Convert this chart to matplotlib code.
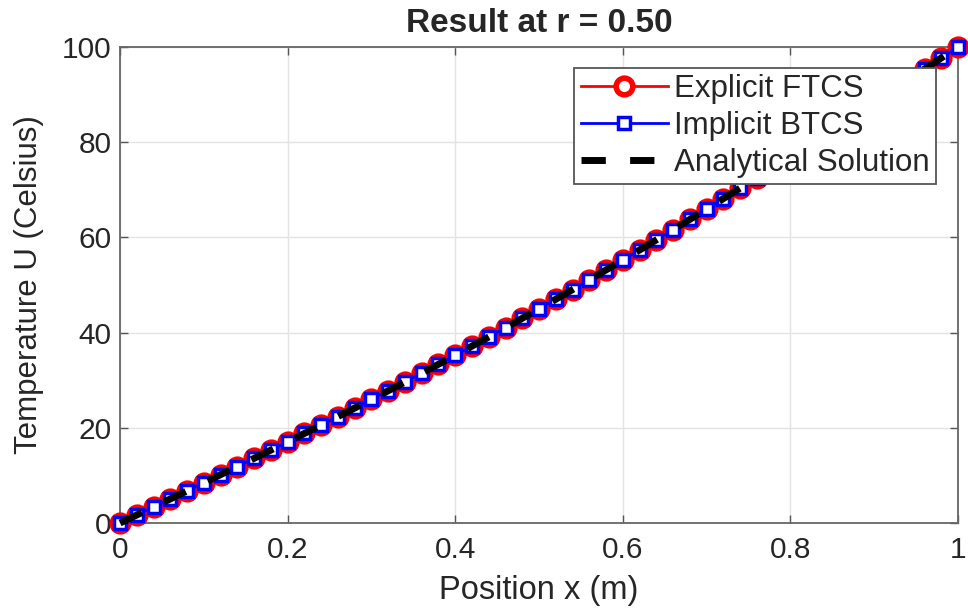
import matplotlib
matplotlib.use("Agg")
import matplotlib.pyplot as plt

plt.rcParams['font.family'] = ['Liberation Sans', 'DejaVu Sans']

x = [i / 50 for i in range(51)]
u_ftcs = [0.00, 1.69, 3.37, 5.06, 6.76, 8.45, 10.16, 11.87, 13.59, 15.32,
          17.06, 18.81, 20.58, 22.36, 24.15, 25.95, 27.78, 29.62, 31.48, 33.35,
          35.24, 37.16, 39.09, 41.04, 43.01, 45.00, 47.01, 49.04, 51.09, 53.16,
          55.24, 57.35, 59.48, 61.62, 63.78, 65.95, 68.15, 70.36, 72.58, 74.81,
          77.06, 79.32, 81.59, 83.87, 86.16, 88.45, 90.76, 93.06, 95.37, 97.69, 100.00]
u_btcs = [0.00, 1.69, 3.37, 5.06, 6.76, 8.45, 10.16, 11.87, 13.59, 15.32,
          17.06, 18.81, 20.58, 22.36, 24.15, 25.95, 27.78, 29.62, 31.48, 33.35,
          35.24, 37.16, 39.09, 41.04, 43.01, 45.00, 47.01, 49.04, 51.09, 53.16,
          55.24, 57.35, 59.48, 61.62, 63.78, 65.95, 68.15, 70.36, 72.58, 74.81,
          77.06, 79.32, 81.59, 83.87, 86.16, 88.45, 90.76, 93.06, 95.37, 97.69, 100.00]
u_exact = [0.00, 1.69, 3.37, 5.06, 6.76, 8.45, 10.16, 11.87, 13.59, 15.32,
           17.06, 18.81, 20.58, 22.36, 24.15, 25.95, 27.78, 29.62, 31.48, 33.35,
           35.24, 37.16, 39.09, 41.04, 43.01, 45.00, 47.01, 49.04, 51.09, 53.16,
           55.24, 57.35, 59.48, 61.62, 63.78, 65.95, 68.15, 70.36, 72.58, 74.81,
           77.06, 79.32, 81.59, 83.87, 86.16, 88.45, 90.76, 93.06, 95.37, 97.69, 100.00]
xticks = [0, 0.2, 0.4, 0.6, 0.8, 1]
xticklabels = ['0', '0.2', '0.4', '0.6', '0.8', '1']
yticks = [0, 20, 40, 60, 80, 100]

TXT = '#262626'
fig = plt.figure(figsize=(9.68, 6.10), dpi=100)
ax = fig.add_axes([0.124, 0.1426, 0.8657, 0.7804])

ax.plot(x, u_ftcs, color='red', lw=2, marker='o', ms=12, mew=4,
        mfc='white', mec='red', label='Explicit FTCS', clip_on=False, zorder=3)
ax.plot(x, u_btcs, color='blue', lw=2, marker='s', ms=8, mew=2.5,
        mfc='white', mec='blue', label='Implicit BTCS', clip_on=False, zorder=4)
ax.plot(x, u_exact, color='black', lw=5, ls=(0, (3.5, 3.5)),
        label='Analytical Solution', clip_on=False, zorder=5)

ax.set_xlim(0, 1)
ax.set_ylim(0, 100)
ax.set_xticks(xticks)
ax.set_xticklabels(xticklabels)
ax.set_yticks(yticks)
ax.grid(True, color='#e3e3e3', lw=1)
ax.set_axisbelow(True)
for s in ax.spines.values():
    s.set_color('#666666')
    s.set_linewidth(1.3)
ax.tick_params(direction='in', length=6, width=1, labelsize=21.5, colors='#555555',
               labelcolor=TXT, top=True, right=True)
ax.tick_params(axis='x', pad=9)
ax.tick_params(axis='y', pad=6)

ax.set_xlabel('Position x (m)', fontsize=23.5, color=TXT, labelpad=8)
ax.set_ylabel('Temperature U (Celsius)', fontsize=22.5, color=TXT, labelpad=13)
ax.set_title('Result at r = 0.50', fontsize=24, fontweight='bold', color=TXT, pad=11)

leg = ax.legend(loc='upper right', bbox_to_anchor=(0.974, 0.956), fontsize=22.5,
                frameon=True, fancybox=False, edgecolor='#555555', framealpha=1,
                handlelength=2.8, handletextpad=0.2, borderpad=0.2, labelspacing=0.22,
                borderaxespad=0)
leg.get_frame().set_linewidth(1.3)
for t in leg.get_texts():
    t.set_color(TXT)

fig.savefig('out.png', dpi=100)
